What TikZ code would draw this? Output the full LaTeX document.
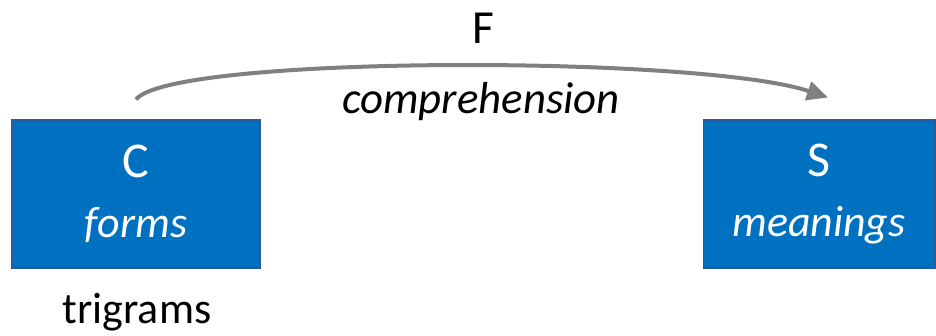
\documentclass[tikz,border=0pt]{standalone}
\usepackage{fontspec}
\setmainfont{Carlito}
\usetikzlibrary{arrows.meta}
\definecolor{boxblue}{RGB}{0,112,192}
\definecolor{boxedge}{RGB}{40,90,160}
\definecolor{arrowgray}{RGB}{128,128,128}
\newcommand{\setname}[1]{{\fontsize{28.5}{29}\selectfont #1}}

\begin{document}
\begin{tikzpicture}[x=0.02cm,y=-0.02cm,
  setbox/.style={rectangle,draw=boxedge,fill=boxblue,line width=0.6pt,
    text=white,align=center,font=\fontsize{25}{29}\selectfont,inner sep=0pt,
    minimum height=2.96cm},
  lbl/.style={font=\fontsize{25}{29}\selectfont,inner sep=0pt},
  maparrow/.style={draw=arrowgray,line width=0.08cm,
    -{Triangle[length=0.42cm,width=0.38cm]}}]
  \useasboundingbox (0,0) rectangle (936,335);
  % the two sets
  \node[setbox,minimum width=4.96cm] (C) at (136,194) {\setname{C}\\[5.5pt]\textit{forms}};
  \node[setbox,minimum width=4.64cm] (S) at (819,194) {\setname{S}\\[5.5pt]\textit{meanings}};
  \node[lbl,anchor=base] (trig) at (137,323) {trigrams};
  % the map F between them
  \coordinate (fstart) at ([yshift=0.4cm]C.north);
  \coordinate (fend) at ([xshift=0.18cm,yshift=0.44cm]S.north);
  \draw[maparrow] (fstart) .. controls (170,55) and (700,55) .. (fend);
  \node[lbl,font=\fontsize{27}{29}\selectfont] (F) at (483,28) {F};
  \node[lbl,anchor=base,font=\fontsize{25.5}{29}\selectfont] (comp) at (481,113) {\textit{comprehension}};
\end{tikzpicture}
\end{document}
